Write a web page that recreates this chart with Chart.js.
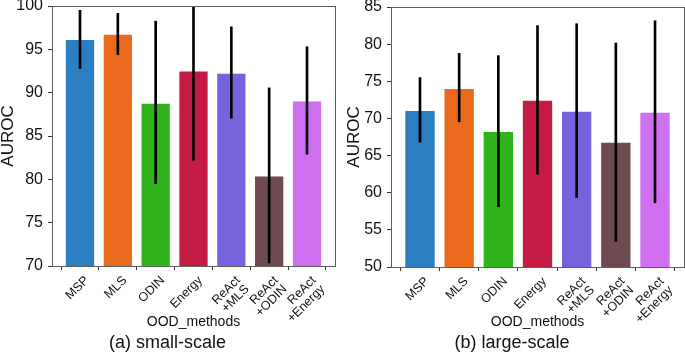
<!DOCTYPE html>
<html>
<head>
<meta charset="utf-8">
<script src="https://cdn.jsdelivr.net/npm/chart.js@4.4.1/dist/chart.umd.min.js"></script>
<style>
  html, body { margin: 0; padding: 0; background: #fff; }
  #wrap { position: relative; width: 685px; height: 352px; }
  .box { position: absolute; top: 0; height: 352px; }
  #left { left: 0; width: 340px; }
  #right { left: 340px; width: 345px; }
</style>
</head>
<body>
<div id="wrap">
  <div class="box" id="left"><canvas id="c1"></canvas></div>
  <div class="box" id="right"><canvas id="c2"></canvas></div>
</div>
<script>
// methods on the x axis
const methods = [['MSP'], ['MLS'], ['ODIN'], ['Energy'], ['ReAct', '+MLS'], ['ReAct', '+ODIN'], ['ReAct', '+Energy']];
const colors = ['#2a7ec1', '#ea6a1e', '#30b31a', '#c31b44', '#7663dc', '#6f4a51', '#d06ef0'];

// (a) small-scale
const smallMean = [96.2, 96.8, 88.85, 92.55, 92.3, 80.45, 89.1];
const smallLow  = [92.8, 94.4, 79.5, 82.2, 87.05, 70.35, 82.9];
const smallHigh = [99.5, 99.15, 98.25, 101.5, 97.6, 90.55, 95.3];
const smallTicks = [70, 75, 80, 85, 90, 95, 100];

// (b) large-scale
const largeMean = [71.15, 74.1, 68.3, 72.5, 71.05, 66.85, 70.9];
const largeLow  = [66.8, 69.55, 58.1, 62.5, 59.35, 53.45, 58.65];
const largeHigh = [75.5, 78.75, 78.45, 82.5, 82.75, 80.15, 83.15];
const largeTicks = [50, 55, 60, 65, 70, 75, 80, 85];

const FONT = 'Liberation Sans, Arial, sans-serif';

// frame around the plot area, like matplotlib spines
const frame = {
  id: 'frame',
  afterDatasetsDraw(chart) {
    const a = chart.chartArea, ctx = chart.ctx;
    ctx.save();
    ctx.strokeStyle = '#5e5e5e';
    ctx.lineWidth = 1;
    ctx.strokeRect(a.left + 0.5, a.top + 0.5, a.right - a.left, a.bottom - a.top);
    ctx.restore();
  }
};

function makeChart(id, opt) {
  const bars = opt.mean.map((v, i) => ({ x: i, y: v }));
  const errs = opt.low.map((v, i) => ({ x: i, y: [v, opt.high[i]] }));
  return new Chart(document.getElementById(id), {
    type: 'bar',
    data: {
      datasets: [{
        data: bars,
        backgroundColor: colors,
        borderColor: 'rgba(255,255,255,0.45)',
        borderWidth: 1,
        borderSkipped: false,
        barPercentage: 0.8,
        categoryPercentage: 1,
        grouped: false,
        order: 2
      }, {
        data: errs,
        backgroundColor: '#000',
        barThickness: 2,
        grouped: false,
        order: 1
      }]
    },
    options: {
      responsive: true,
      maintainAspectRatio: false,
      animation: false,
      layout: { padding: { top: opt.top, right: opt.right, left: 0, bottom: 0 } },
      plugins: {
        legend: { display: false },
        tooltip: { enabled: false },
        title: {
          display: true,
          position: 'bottom',
          text: opt.caption,
          color: '#111',
          font: { family: FONT, size: 18, weight: 'normal', lineHeight: 1 },
          padding: { top: 3, bottom: 0 }
        }
      },
      scales: {
        x: {
          type: 'linear',
          offset: false,
          min: -0.74,
          max: 6.74,
          afterBuildTicks: s => { s.ticks = methods.map((m, i) => ({ value: i })); },
          afterFit: s => { s.height = opt.xh; s.paddingLeft = 0; s.paddingRight = 0; },
          ticks: {
            autoSkip: false,
            minRotation: 45,
            maxRotation: 45,
            padding: 4,
            labelOffset: 7,
            color: '#111',
            font: { family: FONT, size: 12.5, lineHeight: 1 },
            callback: v => methods[v]
          },
          grid: { display: true, drawOnChartArea: false, tickLength: 4, color: '#333' },
          border: { display: false },
          title: {
            display: true,
            text: 'OOD_methods',
            color: '#111',
            font: { family: FONT, size: 14 },
            padding: { top: 0, bottom: 0 }
          }
        },
        y: {
          min: opt.ticks[0],
          max: opt.ticks[opt.ticks.length - 1],
          afterBuildTicks: s => { s.ticks = opt.ticks.map(v => ({ value: v })); },
          afterFit: s => { s.width = opt.yw; s.paddingTop = 0; s.paddingBottom = 0; },
          ticks: {
            padding: 5,
            color: '#111',
            font: { family: FONT, size: 16 }
          },
          grid: { display: true, drawOnChartArea: false, tickLength: 4, color: '#333' },
          border: { display: false },
          title: {
            display: true,
            text: 'AUROC',
            color: '#111',
            font: { family: FONT, size: 17, lineHeight: 1 },
            padding: { top: opt.tp, bottom: 0 }
          }
        }
      }
    },
    plugins: [frame]
  });
}

makeChart('c1', { mean: smallMean, low: smallLow, high: smallHigh, ticks: smallTicks,
  caption: '(a) small-scale', yw: 52, top: 6, right: 5, tp: 0, xh: 65 });
makeChart('c2', { mean: largeMean, low: largeLow, high: largeHigh, ticks: largeTicks,
  caption: '(b) large-scale', yw: 51, top: 7, right: 1, tp: 6, xh: 64 });
</script>
</body>
</html>
